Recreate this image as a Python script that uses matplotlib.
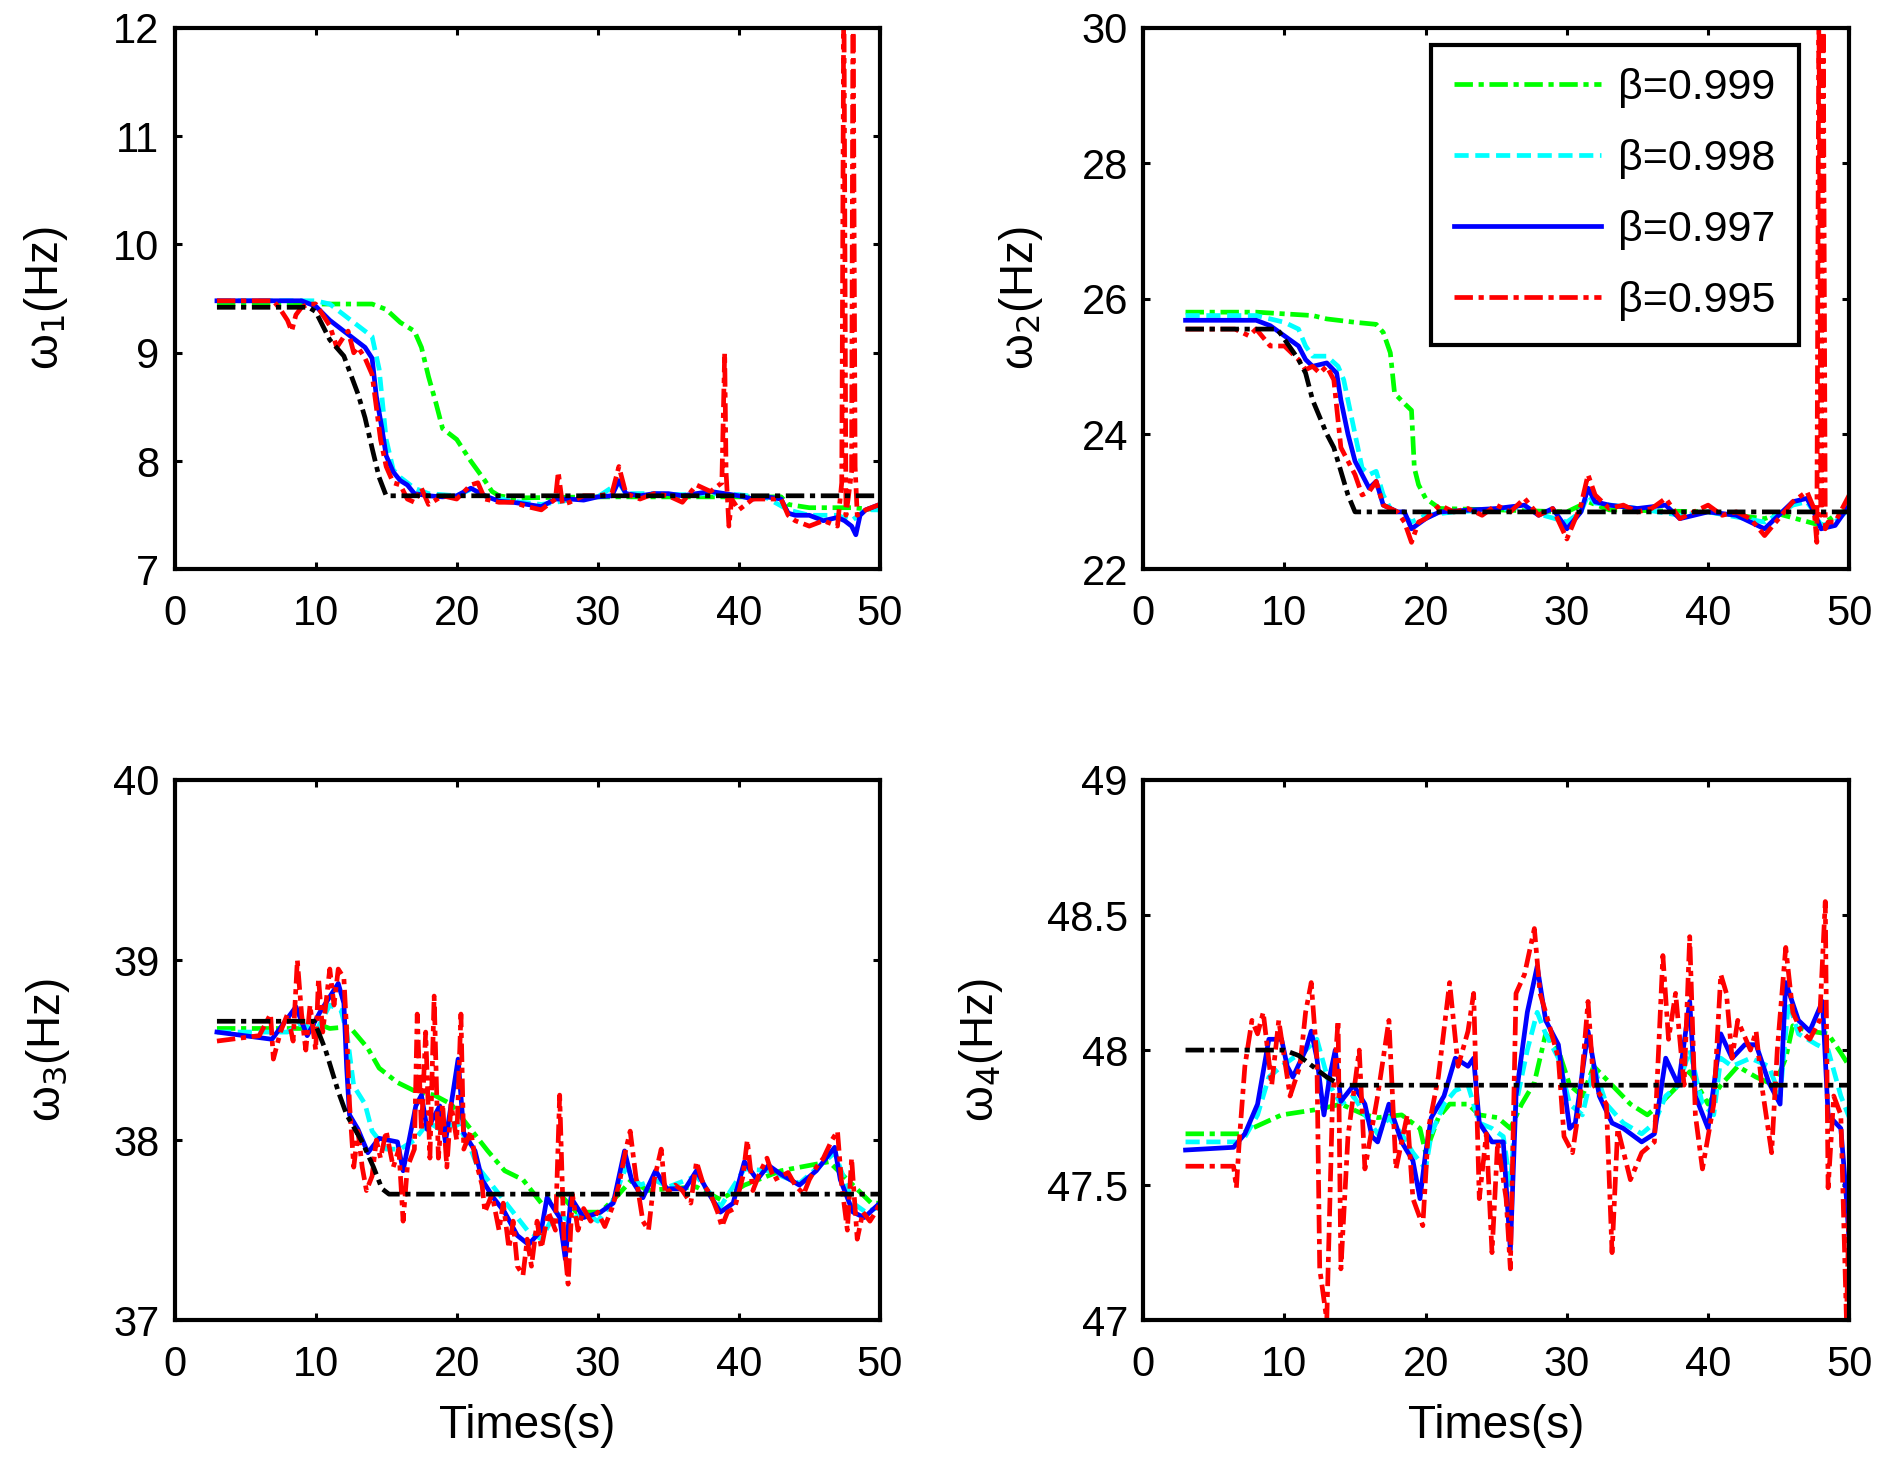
import matplotlib
matplotlib.use("Agg")
import matplotlib.pyplot as plt

plt.rcParams['font.family'] = ['Liberation Sans', 'DejaVu Sans']

# ---------------- Panel 1 : omega_1 ----------------
t1_black = [3, 9.5, 10, 11, 12, 13, 13.5, 14, 14.5, 15, 50]
w1_black = [9.42, 9.42, 9.38, 9.12, 8.97, 8.62, 8.4, 8.12, 7.85, 7.68, 7.68]

t1_green = [3, 14, 15, 16, 17, 17.5, 18, 18.5, 19, 20, 21, 22, 22.5, 23, 24, 30, 43, 43.5, 45, 48, 50]
w1_green = [9.45, 9.45, 9.4, 9.28, 9.2, 9.05, 8.78, 8.55, 8.3, 8.2, 8.0, 7.82, 7.72, 7.68, 7.66, 7.67, 7.67, 7.6, 7.57, 7.57, 7.55]

t1_cyan = [3, 10, 11, 12, 13, 14, 14.5, 15, 15.5, 16, 17, 18, 20, 21, 22, 24, 26, 28, 30, 31.5, 32, 34, 36, 38, 40, 42, 43.5, 45, 47, 48, 49, 50]
w1_cyan = [9.48, 9.48, 9.45, 9.35, 9.25, 9.15, 8.85, 8.2, 7.92, 7.85, 7.75, 7.7, 7.68, 7.74, 7.68, 7.63, 7.6, 7.64, 7.67, 7.8, 7.7, 7.7, 7.69, 7.7, 7.69, 7.66, 7.55, 7.5, 7.5, 7.45, 7.55, 7.55]

t1_blue = [3, 9, 10, 11, 12, 12.5, 13, 13.5, 14, 14.3, 14.7, 15, 15.5, 16, 16.5, 17, 18, 19, 20, 21, 22, 23, 24, 25, 26, 27, 28, 29, 30, 31, 31.5, 32, 33, 34, 35, 36, 37, 38, 39, 40, 41, 42, 43, 43.5, 44, 45, 46, 47, 47.5, 48, 48.3, 48.6, 49, 50]
w1_blue = [9.48, 9.48, 9.43, 9.3, 9.2, 9.15, 9.1, 9.05, 8.95, 8.6, 8.3, 8.05, 7.9, 7.82, 7.78, 7.7, 7.68, 7.67, 7.68, 7.75, 7.68, 7.63, 7.62, 7.6, 7.58, 7.65, 7.65, 7.64, 7.67, 7.68, 7.82, 7.7, 7.68, 7.7, 7.7, 7.68, 7.7, 7.72, 7.7, 7.68, 7.65, 7.67, 7.65, 7.52, 7.5, 7.5, 7.45, 7.48, 7.45, 7.4, 7.32, 7.5, 7.55, 7.6]

t1_red = [3, 7, 7.5, 8, 8.3, 8.6, 9, 9.5, 10, 10.5, 11, 11.5, 12, 12.3, 12.7, 13, 13.5, 14, 14.3, 14.6, 15, 15.5, 16, 16.5, 17, 17.5, 18, 19, 20, 21, 21.5, 22, 23, 24, 25, 26, 27, 27.2, 27.5, 28, 29, 30, 31, 31.5, 32, 33, 34, 35, 36, 37, 38, 38.8, 39, 39.1, 39.3, 39.5, 40, 41, 42, 43, 43.5, 44, 45, 46, 47, 47.3, 47.45, 47.6, 48.0, 48.1, 48.25, 48.4, 49, 50]
w1_red = [9.48, 9.48, 9.4, 9.3, 9.2, 9.35, 9.42, 9.45, 9.45, 9.35, 9.25, 9.05, 9.15, 9.2, 9.0, 9.05, 8.95, 8.8, 8.5, 8.2, 7.95, 7.8, 7.78, 7.65, 7.62, 7.75, 7.6, 7.68, 7.65, 7.78, 7.8, 7.65, 7.62, 7.62, 7.58, 7.55, 7.65, 7.9, 7.6, 7.62, 7.68, 7.68, 7.7, 7.95, 7.7, 7.65, 7.7, 7.68, 7.62, 7.78, 7.72, 7.8, 9.0, 7.9, 7.4, 7.65, 7.55, 7.65, 7.65, 7.65, 7.5, 7.45, 7.4, 7.45, 7.4, 7.8, 12.5, 7.5, 7.9, 12.5, 7.95, 7.5, 7.55, 7.6]

# ---------------- Panel 2 : omega_2 ----------------
t2_black = [3, 9.5, 10, 11, 11.5, 12, 13, 13.5, 14, 14.5, 15, 50]
w2_black = [25.55, 25.55, 25.4, 25.1, 24.9, 24.5, 24.0, 23.8, 23.45, 23.1, 22.85, 22.85]

t2_green = [3, 8, 12, 13, 15, 16.5, 17, 17.5, 17.8, 18.5, 19, 19.2, 19.5, 20, 21, 25, 30, 31.5, 33, 40, 44, 45, 48, 49, 50]
w2_green = [25.8, 25.8, 25.75, 25.7, 25.65, 25.62, 25.5, 25.2, 24.6, 24.45, 24.35, 23.5, 23.25, 23.05, 22.9, 22.88, 22.85, 23.0, 22.88, 22.85, 22.75, 22.82, 22.65, 22.8, 22.9]

t2_cyan = [3, 8, 9, 10, 11, 11.5, 12, 13, 13.8, 14.2, 14.7, 15, 15.5, 16, 16.5, 17, 17.5, 18, 19, 20, 22, 25, 27, 28, 30, 31, 31.5, 32, 35, 38, 40, 44, 45, 46, 47, 47.5, 48, 49, 50]
w2_cyan = [25.75, 25.75, 25.7, 25.65, 25.55, 25.3, 25.15, 25.15, 25.0, 24.8, 24.3, 24.0, 23.5, 23.4, 23.45, 23.1, 22.9, 22.85, 22.7, 22.8, 22.85, 22.88, 22.92, 22.82, 22.7, 22.85, 23.1, 22.98, 22.9, 22.8, 22.85, 22.7, 22.82, 22.95, 23.0, 22.85, 22.65, 22.7, 22.9]

t2_blue = [3, 8, 9, 10, 11, 11.5, 12, 13, 13.7, 14, 14.5, 15, 15.5, 16, 16.5, 17, 18, 18.5, 19, 20, 21, 25, 27, 28, 29, 30, 31, 31.5, 32, 33, 35, 37, 38, 40, 42, 44, 45, 46, 47, 47.5, 48, 49, 50]
w2_blue = [25.68, 25.68, 25.6, 25.45, 25.3, 25.1, 25.0, 25.05, 24.9, 24.5, 24.0, 23.6, 23.4, 23.2, 23.3, 22.95, 22.85, 22.85, 22.6, 22.75, 22.85, 22.9, 22.95, 22.8, 22.9, 22.6, 22.85, 23.2, 23.0, 22.95, 22.9, 22.95, 22.75, 22.85, 22.8, 22.6, 22.8, 23.0, 23.05, 22.85, 22.6, 22.65, 22.95]

t2_red = [3, 6.5, 7.5, 8, 9, 10, 10.5, 11, 11.5, 12, 12.5, 13, 13.5, 13.8, 14, 14.5, 15, 15.5, 16, 16.5, 17, 18, 18.5, 19, 19.5, 20, 21, 22, 23, 24, 25, 26, 27, 28, 29, 30, 31, 31.5, 32, 33, 34, 35, 36, 37, 38, 39, 40, 41, 42, 43, 44, 45, 46, 47, 47.5, 47.7, 47.85, 48.0, 48.15, 48.3, 48.5, 49, 50]
w2_red = [25.55, 25.55, 25.45, 25.55, 25.3, 25.3, 25.2, 25.1, 24.95, 25.0, 24.9, 25.0, 24.8, 24.2, 23.8, 23.6, 23.4, 23.1, 23.15, 23.3, 22.95, 22.85, 22.7, 22.4, 22.7, 22.75, 22.95, 22.85, 22.9, 22.8, 22.95, 22.85, 23.05, 22.8, 22.9, 22.45, 22.95, 23.4, 23.1, 22.9, 22.95, 22.85, 22.9, 23.05, 22.75, 22.85, 22.95, 22.8, 22.85, 22.75, 22.5, 22.75, 23.0, 23.15, 22.9, 22.4, 30.5, 22.8, 30.5, 22.6, 22.7, 22.7, 23.1]

# ---------------- Panel 3 : omega_3 ----------------
t3_black = [3, 9.9, 10.7, 11.6, 12.2, 13.3, 14.1, 14.7, 15.2, 50]
w3_black = [38.66, 38.66, 38.5, 38.27, 38.14, 37.99, 37.85, 37.73, 37.7, 37.7]

t3_green = [3, 9, 10, 11, 12.4, 13.7, 14.5, 15.8, 17.1, 18.4, 19.6, 20.9, 22.2, 23.4, 24.7, 26.0, 27.3, 28.5, 30.2, 31.5, 32.4, 33.5, 35, 37, 38.7, 40.4, 43, 46.4, 48.1, 49.4, 50]
w3_green = [38.62, 38.62, 38.65, 38.62, 38.63, 38.51, 38.4, 38.32, 38.27, 38.25, 38.2, 38.07, 37.94, 37.83, 37.78, 37.65, 37.7, 37.6, 37.6, 37.7, 37.78, 37.72, 37.73, 37.74, 37.67, 37.75, 37.83, 37.88, 37.75, 37.65, 37.65]

t3_cyan = [3, 8, 9, 10, 11, 11.8, 12.2, 12.7, 13.5, 14, 15, 16, 17, 18, 19, 20, 21, 21.5, 23, 24, 25, 26, 27, 28, 29, 30, 31, 32, 33, 34, 35, 37, 38.7, 40.4, 42.1, 44.3, 46.8, 48.1, 49, 50]
w3_cyan = [38.6, 38.6, 38.65, 38.6, 38.75, 38.72, 38.6, 38.3, 38.2, 38.05, 37.95, 37.95, 38.0, 38.1, 38.05, 38.1, 37.95, 37.85, 37.7, 37.6, 37.5, 37.45, 37.6, 37.55, 37.6, 37.55, 37.65, 37.85, 37.75, 37.78, 37.74, 37.8, 37.63, 37.84, 37.83, 37.76, 37.93, 37.65, 37.6, 37.63]

t3_blue = [3, 6.9, 8.6, 9.4, 10.3, 11.6, 12.0, 12.2, 12.4, 13.0, 13.7, 14.5, 15.8, 16.2, 17.1, 17.5, 17.9, 18.8, 19.2, 20.1, 20.5, 21.3, 21.8, 22.6, 23.4, 24.3, 25.1, 26.0, 26.4, 27.3, 27.7, 28.1, 29.0, 30.2, 31.1, 31.9, 32.4, 33.2, 34.1, 34.9, 36.2, 37.0, 37.9, 38.7, 39.6, 40.4, 41.3, 42.1, 43.0, 44.3, 45.5, 46.8, 47.2, 48.1, 48.9, 50]
w3_blue = [38.6, 38.56, 38.74, 38.58, 38.71, 38.87, 38.76, 38.4, 38.14, 38.06, 37.93, 38.01, 37.99, 37.83, 38.19, 38.25, 38.06, 38.19, 37.99, 38.45, 38.04, 37.94, 37.78, 37.68, 37.6, 37.47, 37.42, 37.5, 37.68, 37.57, 37.34, 37.68, 37.57, 37.6, 37.65, 37.94, 37.78, 37.68, 37.83, 37.73, 37.73, 37.83, 37.7, 37.6, 37.65, 37.88, 37.78, 37.86, 37.81, 37.75, 37.83, 37.96, 37.78, 37.6, 37.57, 37.65]

t3_red = [3, 6, 6.8, 7, 7.5, 8, 8.4, 8.7, 9, 9.3, 9.6, 10, 10.2, 10.5, 11, 11.3, 11.6, 12, 12.2, 12.4, 12.7, 13, 13.3, 13.6, 14, 14.3, 14.6, 15, 15.5, 15.9, 16.2, 16.5, 17, 17.2, 17.5, 17.8, 18.1, 18.4, 18.7, 19.0, 19.3, 19.6, 20, 20.3, 20.5, 21, 21.3, 21.8, 22, 22.5, 23, 23.3, 23.7, 24, 24.3, 24.7, 25, 25.3, 25.7, 26, 26.5, 27, 27.3, 27.6, 27.9, 28.2, 28.6, 29, 29.5, 30, 30.5, 31, 31.5, 32, 32.3, 32.7, 33.2, 33.6, 34, 34.5, 34.8, 35.5, 36, 36.6, 37, 37.5, 38, 38.5, 38.8, 39.2, 39.7, 40.3, 40.6, 41, 41.5, 42, 42.5, 43, 43.5, 44, 44.6, 45, 45.5, 46, 46.6, 47, 47.3, 47.7, 48, 48.4, 48.8, 49.3, 49.7, 50]
w3_red = [38.55, 38.58, 38.7, 38.45, 38.6, 38.7, 38.55, 39.0, 38.7, 38.5, 38.75, 38.5, 38.9, 38.6, 38.95, 38.75, 38.95, 38.9, 38.6, 38.2, 37.85, 38.05, 37.85, 37.72, 37.8, 38.0, 37.9, 38.05, 37.85, 37.95, 37.55, 37.85, 37.95, 38.7, 38.05, 38.6, 37.9, 38.8, 37.9, 38.2, 37.85, 38.2, 38.0, 38.7, 37.95, 38.05, 37.9, 37.75, 37.6, 37.7, 37.5, 37.65, 37.4, 37.55, 37.3, 37.25, 37.45, 37.3, 37.55, 37.4, 37.6, 37.5, 38.25, 37.45, 37.2, 37.7, 37.5, 37.62, 37.55, 37.6, 37.52, 37.62, 37.75, 37.95, 38.05, 37.8, 37.55, 37.5, 37.78, 37.95, 37.7, 37.75, 37.72, 37.65, 37.88, 37.75, 37.7, 37.6, 37.52, 37.6, 37.62, 37.8, 38.0, 37.72, 37.82, 37.9, 37.78, 37.8, 37.82, 37.75, 37.7, 37.78, 37.85, 37.9, 38.0, 38.05, 37.75, 37.5, 37.9, 37.45, 37.6, 37.55, 37.6, 37.65]

# ---------------- Panel 4 : omega_4 ----------------
t4_black = [3, 10, 11, 12, 13, 14, 50]
w4_black = [48.0, 48.0, 47.98, 47.94, 47.9, 47.87, 47.87]

t4_green = [3, 7, 7.7, 9.8, 12.3, 13.2, 14, 15.7, 16.6, 18.3, 19.6, 20, 20.9, 21.7, 23, 23.8, 25.1, 26, 26.8, 27.7, 28.1, 28.5, 29.4, 30.2, 31.1, 31.9, 33.2, 34.5, 35.7, 36.6, 37.9, 38.7, 40, 40.9, 42.1, 43.4, 44.7, 45.5, 46, 47.2, 48.5, 49.4, 50]
w4_green = [47.69, 47.69, 47.71, 47.76, 47.78, 47.79, 47.8, 47.76, 47.75, 47.76, 47.71, 47.62, 47.75, 47.8, 47.8, 47.76, 47.75, 47.71, 47.8, 47.88, 47.97, 48.06, 48.0, 47.87, 47.83, 47.94, 47.87, 47.8, 47.76, 47.8, 47.87, 47.92, 47.8, 47.87, 47.94, 47.9, 47.87, 47.97, 48.09, 48.07, 48.06, 47.99, 47.94]

t4_cyan = [3, 7, 8.1, 8.9, 9.8, 10.6, 11.5, 12.3, 13.2, 14, 14.9, 15.7, 16.6, 17.4, 18.3, 19.1, 20, 20.4, 21.3, 22.1, 23, 23.8, 24.7, 25.5, 26, 26.4, 27.2, 27.9, 28.5, 29.4, 30.2, 31.1, 31.9, 32.8, 34, 35.3, 36.2, 37, 37.9, 38.7, 39.6, 40.4, 40.9, 41.7, 43, 44.3, 45.1, 45.7, 46.4, 47.7, 48.5, 49.4, 50]
w4_cyan = [47.66, 47.66, 47.76, 47.9, 47.94, 47.97, 48.0, 48.04, 47.87, 47.8, 47.83, 47.76, 47.69, 47.75, 47.69, 47.62, 47.56, 47.69, 47.8, 47.85, 47.87, 47.73, 47.71, 47.68, 47.5, 47.8, 48.0, 48.14, 48.06, 47.97, 47.8, 47.76, 47.94, 47.8, 47.73, 47.69, 47.73, 47.83, 47.87, 48.0, 47.8, 47.76, 47.97, 47.94, 47.97, 47.94, 47.83, 48.18, 48.06, 48.02, 48.0, 47.83, 47.75]

t4_blue = [3, 6.4, 7.2, 8.1, 8.9, 9.8, 10.2, 10.6, 11.5, 11.9, 12.3, 12.8, 13.2, 13.6, 14, 14.9, 15.7, 16.2, 16.6, 17.4, 18.3, 19.1, 19.6, 20, 20.4, 21.3, 22.1, 23, 23.4, 23.8, 24.7, 25.5, 26, 26.4, 27.2, 27.9, 28.5, 29.4, 30.2, 30.6, 31.5, 32.3, 33.2, 34, 35.3, 36.2, 37, 37.9, 38.7, 39.1, 40, 40.9, 41.7, 42.6, 43.4, 44.3, 45.1, 45.5, 46.4, 47.2, 48.1, 48.5, 49.4, 49.8, 50]
w4_blue = [47.63, 47.64, 47.69, 47.8, 48.04, 48.04, 47.94, 47.9, 48.0, 48.07, 47.97, 47.76, 47.9, 48.0, 47.81, 47.87, 47.8, 47.68, 47.66, 47.8, 47.66, 47.59, 47.45, 47.62, 47.75, 47.83, 47.97, 47.94, 47.97, 47.73, 47.66, 47.66, 47.26, 47.83, 48.14, 48.31, 48.11, 48.02, 47.71, 47.73, 48.07, 47.83, 47.73, 47.71, 47.66, 47.69, 47.97, 47.87, 48.18, 47.83, 47.71, 48.06, 47.97, 48.02, 48.02, 47.88, 47.8, 48.25, 48.11, 48.07, 48.18, 47.76, 47.71, 47.45, 47.28]

t4_red = [3, 6.4, 6.6, 6.8, 7.2, 7.7, 8.1, 8.5, 9.1, 9.6, 10, 10.4, 11.1, 11.5, 11.9, 12.3, 12.5, 13.0, 13.4, 13.8, 14.0, 14.5, 15.3, 15.7, 16.6, 17.4, 17.9, 18.7, 19.1, 19.8, 20.2, 20.9, 21.7, 22.3, 23.0, 23.4, 23.8, 24.3, 24.7, 25.1, 25.7, 26.0, 26.4, 27.0, 27.7, 28.1, 28.5, 29.4, 29.8, 30.4, 30.9, 31.5, 31.9, 32.8, 33.2, 33.6, 34.5, 35.3, 36.2, 36.8, 37.2, 37.7, 38.3, 38.7, 39.1, 39.6, 40.4, 40.9, 41.3, 41.7, 42.1, 43, 43.4, 43.8, 44.5, 44.9, 45.5, 46, 46.6, 47.2, 47.9, 48.3, 48.5, 48.9, 49.4, 49.8, 50]
w4_red = [47.57, 47.57, 47.49, 47.66, 47.94, 48.11, 48.06, 48.14, 47.87, 48.11, 47.97, 47.83, 47.94, 48.14, 48.25, 47.97, 47.19, 47.0, 47.8, 48.11, 47.19, 47.68, 48.0, 47.56, 47.83, 48.11, 47.56, 47.76, 47.45, 47.35, 47.71, 47.9, 48.25, 47.94, 48.07, 48.21, 47.45, 47.69, 47.25, 47.66, 47.45, 47.19, 48.21, 48.28, 48.45, 48.21, 48.14, 47.97, 47.68, 47.62, 47.8, 48.18, 47.87, 47.8, 47.25, 47.71, 47.52, 47.62, 47.66, 48.35, 48.04, 48.21, 47.87, 48.42, 47.76, 47.56, 47.8, 48.28, 48.21, 47.97, 48.11, 48.0, 48.07, 47.87, 47.62, 48.0, 48.38, 48.14, 48.07, 48.04, 48.11, 48.55, 47.49, 47.83, 47.76, 47.0, 47.45]

# ---------------- axes settings ----------------
ylabels = ['ω$_1$(Hz)', 'ω$_2$(Hz)', 'ω$_3$(Hz)', 'ω$_4$(Hz)']
ylims = [(7, 12), (22, 30), (37, 40), (47, 49)]
yticks = [[7, 8, 9, 10, 11, 12], [22, 24, 26, 28, 30], [37, 38, 39, 40],
          [47, 47.5, 48, 48.5, 49]]
yticklabels = [['7', '8', '9', '10', '11', '12'], ['22', '24', '26', '28', '30'],
               ['37', '38', '39', '40'], ['47', '47.5', '48', '48.5', '49']]
xticks = [0, 10, 20, 30, 40, 50]
legend_labels = ['β=0.999', 'β=0.998', 'β=0.997', 'β=0.995']

panels = [
    (t1_green, w1_green, t1_cyan, w1_cyan, t1_blue, w1_blue, t1_red, w1_red, t1_black, w1_black),
    (t2_green, w2_green, t2_cyan, w2_cyan, t2_blue, w2_blue, t2_red, w2_red, t2_black, w2_black),
    (t3_green, w3_green, t3_cyan, w3_cyan, t3_blue, w3_blue, t3_red, w3_red, t3_black, w3_black),
    (t4_green, w4_green, t4_cyan, w4_cyan, t4_blue, w4_blue, t4_red, w4_red, t4_black, w4_black),
]

positions = [[0.0925, 0.6105, 0.3735, 0.3705],
             [0.6055, 0.6105, 0.3740, 0.3705],
             [0.0925, 0.0970, 0.3735, 0.3695],
             [0.6055, 0.0970, 0.3740, 0.3695]]
ylab_x = [-0.148, -0.139, -0.146, -0.195]

FS = 30
FS_LAB = 33
FS_LEG = 31
LW = 3.4
DASHDOT = (0, (3.9, 1.2, 1.1, 1.2))
DASHED = (0, (3.0, 1.4))

fig = plt.figure(figsize=(18.88, 14.62), dpi=100)

for i, p in enumerate(panels):
    ax = fig.add_axes(positions[i])
    tg, wg, tc, wc, tb, wb, tr, wr, tk, wk = p
    l1, = ax.plot(tg, wg, color=(0, 1, 0), lw=LW, linestyle=DASHDOT)
    l2, = ax.plot(tc, wc, color=(0, 1, 1), lw=LW, linestyle=DASHED)
    l3, = ax.plot(tb, wb, color=(0, 0, 1), lw=LW, linestyle='-')
    l4, = ax.plot(tr, wr, color=(1, 0, 0), lw=LW, linestyle=DASHDOT)
    ax.plot(tk, wk, color='k', lw=LW, linestyle=DASHDOT)
    ax.set_xlim(0, 50)
    ax.set_ylim(*ylims[i])
    ax.set_xticks(xticks)
    ax.set_yticks(yticks[i])
    ax.set_yticklabels(yticklabels[i])
    ax.tick_params(direction='in', length=5, width=2.2, top=True, right=True,
                   labelsize=FS)
    ax.tick_params(axis='x', pad=18)
    ax.tick_params(axis='y', pad=11)
    for s in ax.spines.values():
        s.set_linewidth(3.0)
    ax.set_ylabel(ylabels[i], fontsize=FS_LAB)
    ax.yaxis.set_label_coords(ylab_x[i], 0.5)
    if i >= 2:
        ax.set_xlabel('Times(s)', fontsize=FS_LAB)
        ax.xaxis.set_label_coords(0.5, -0.155)
    if i == 1:
        leg = ax.legend([l1, l2, l3, l4], legend_labels, loc='upper right',
                        bbox_to_anchor=(0.929, 0.969), borderaxespad=0,
                        fontsize=FS_LEG, handlelength=3.4, handletextpad=0.4,
                        labelspacing=0.72, borderpad=0.55, fancybox=False,
                        framealpha=1, edgecolor='k')
        leg.get_frame().set_linewidth(3.0)

fig.savefig('out.png', dpi=100)
